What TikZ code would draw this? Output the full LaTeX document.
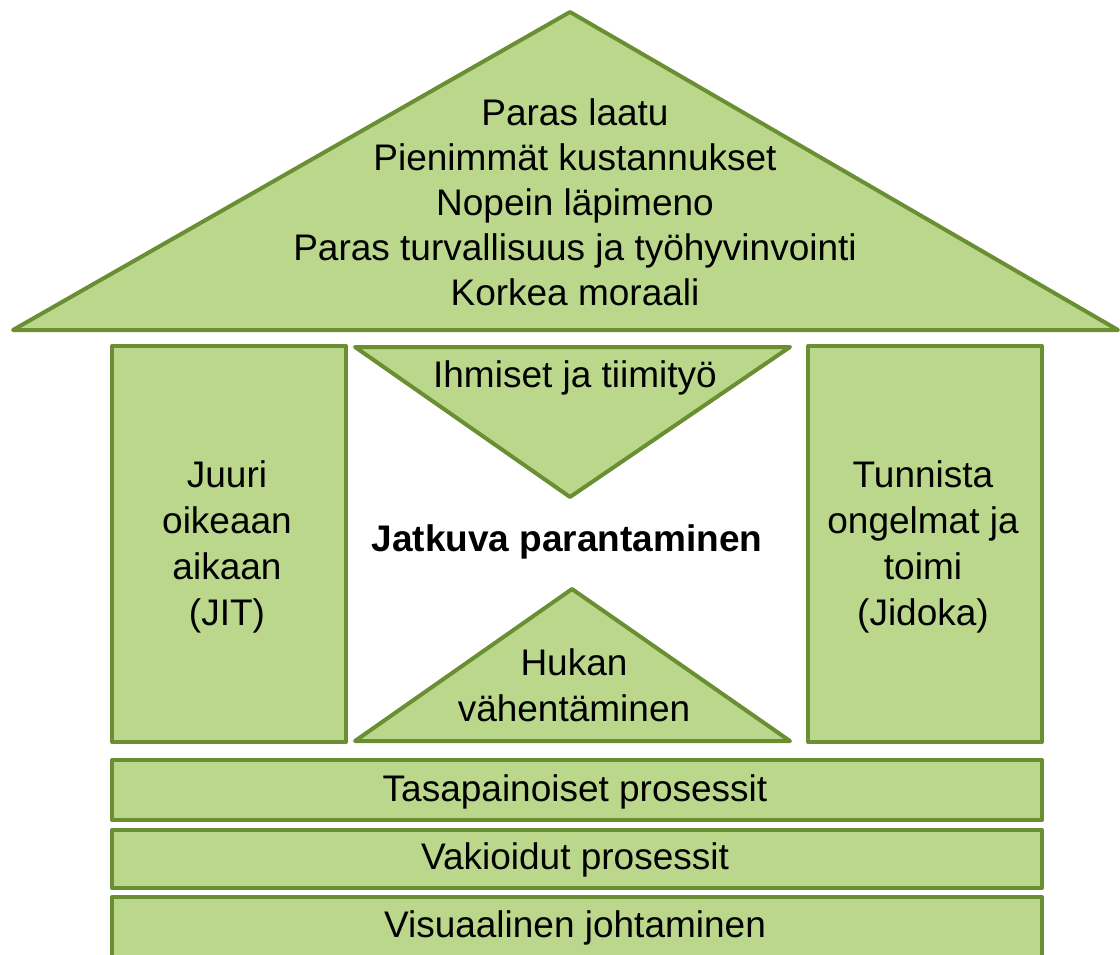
\documentclass[tikz,border=0pt]{standalone}
\usepackage{fontspec}
\setmainfont{Liberation Sans}
\definecolor{leaf}{RGB}{187,215,140}
\definecolor{olive}{RGB}{106,142,50}
\tikzset{
  part/.style={draw=olive,fill=leaf,line width=4pt,line join=round},
  boxpart/.style={part,rectangle,inner sep=0pt,anchor=north west},
  txt/.style={align=center,font=\fontsize{37}{45}\selectfont,inner sep=0pt},
  ptxt/.style={align=center,font=\fontsize{37}{46}\selectfont,inner sep=0pt}
}
\begin{document}
\begin{tikzpicture}[x=1pt,y=-1pt]
\clip (0,0) rectangle (1120,954);
\useasboundingbox (0,0) rectangle (1120,954);
% roof
\draw[part] (570,12) -- (1118,330) -- (13,330) -- cycle;
\node[txt] (roof) at (575,202) {Paras laatu\\Pienimmät kustannukset\\Nopein läpimeno\\Paras turvallisuus ja työhyvinvointi\\Korkea moraali};
% pillars
\node[boxpart,minimum width=234pt,minimum height=396pt] (jit) at (110,344) {};
\node[ptxt] (jittxt) at (227,547) {Juuri\\oikeaan\\aikaan\\(JIT)};
\node[boxpart,minimum width=234pt,minimum height=396pt] (jid) at (806,344) {};
\node[ptxt] (jidtxt) at (923,547) {Tunnista\\ongelmat ja\\toimi\\(Jidoka)};
% inner triangles
\draw[part] (355,347) -- (790,347) -- (570,497) -- cycle;
\node[txt] (ihm) at (575,378) {Ihmiset ja tiimityö};
\draw[part] (355,741) -- (790,741) -- (572,589) -- cycle;
\node[ptxt] (huk) at (574,685) {Hukan\\vähentäminen};
\node[txt,font=\bfseries\fontsize{37}{45}\selectfont] (jat) at (567,542) {Jatkuva parantaminen};
% foundation bars
\node[boxpart,minimum width=930pt,minimum height=60pt] (b1) at (110,758) {};
\node[txt] (b1t) at (575,792) {Tasapainoiset prosessit};
\node[boxpart,minimum width=930pt,minimum height=58pt] (b2) at (110,828) {};
\node[txt] (b2t) at (575,860) {Vakioidut prosessit};
\node[boxpart,minimum width=930pt,minimum height=70pt] (b3) at (110,895) {};
\node[txt] (b3t) at (575,928) {Visuaalinen johtaminen};
\end{tikzpicture}
\end{document}
